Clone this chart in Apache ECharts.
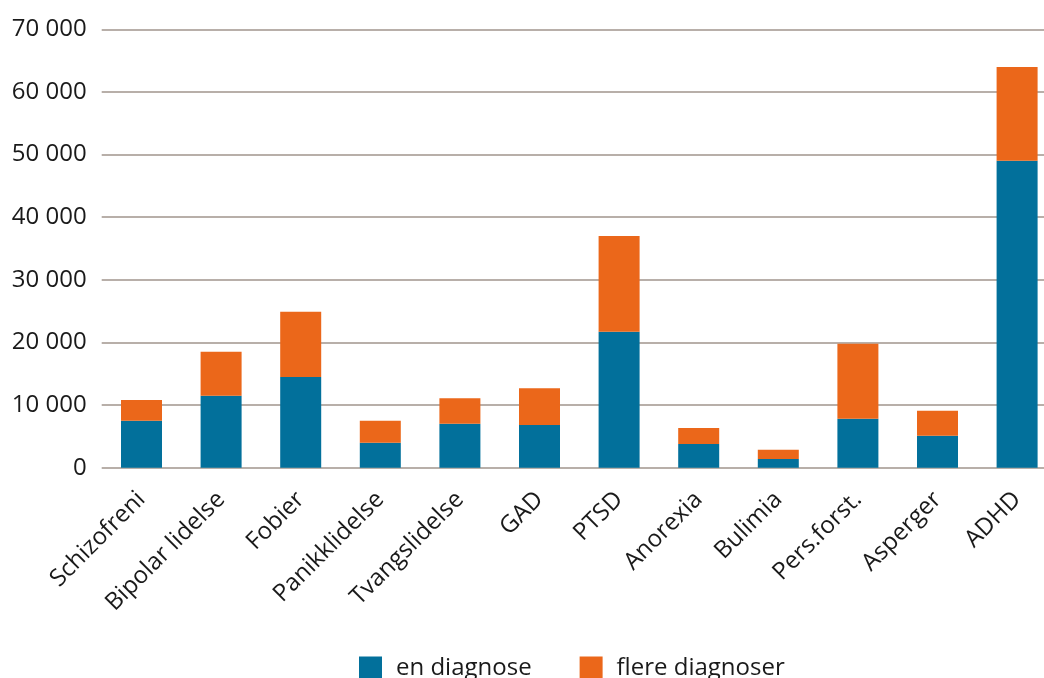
<!DOCTYPE html>
<html>
<head>
<meta charset="utf-8">
<script src="https://cdn.jsdelivr.net/npm/echarts@6/dist/echarts.min.js"></script>
<style>
html,body{margin:0;padding:0;background:#fff;}
#c{width:1044px;height:678px;}
</style>
</head>
<body>
<div id="c"></div>
<script>
const categories = ['Schizofreni','Bipolar lidelse','Fobier','Panikklidelse','Tvangslidelse','GAD','PTSD','Anorexia','Bulimia','Pers.forst.','Asperger','ADHD'];
const enDiagnose = [7500, 11500, 14500, 4000, 7000, 6800, 21700, 3800, 1400, 7800, 5100, 49000];
const flereDiagnoser = [3300, 7000, 10400, 3500, 4100, 5900, 15300, 2550, 1450, 12000, 4000, 15000];
const yTicks = [0, 10000, 20000, 30000, 40000, 50000, 60000, 70000];

const chart = echarts.init(document.getElementById('c'), null, {renderer:'canvas'});
const font = "'Open Sans', 'Noto Sans', sans-serif";
chart.setOption({
  animation: false,
  textStyle: {fontFamily: font},
  grid: {left: 101.7, top: 29.3, width: 955.2, height: 438.4, containLabel: false, outerBoundsMode: 'none'},
  legend: {
    top: 656, left: 359, padding: 0,
    itemWidth: 23, itemHeight: 23, itemGap: 48,
    icon: 'rect',
    textStyle: {fontSize: 24, color: '#1a1a1a', fontFamily: font, padding: [0,0,0,9]},
    data: ['en diagnose', 'flere diagnoser']
  },
  xAxis: {
    type: 'category',
    data: categories,
    axisLine: {show: false},
    axisTick: {show: false},
    axisLabel: {rotate: 45, fontSize: 24, color: '#1a1a1a', margin: 28, interval: 0, fontFamily: font}
  },
  yAxis: {
    type: 'value',
    min: yTicks[0], max: yTicks[yTicks.length-1], interval: 10000,
    axisLine: {show: false},
    axisTick: {show: false},
    splitLine: {lineStyle: {color: '#a0958d', width: 1.5}},
    axisLabel: {
      fontSize: 24, color: '#1a1a1a', margin: 15, fontFamily: font,
      formatter: v => String(v).replace(/\B(?=(\d{3})+(?!\d))/g, ' ')
    }
  },
  series: [
    {name: 'en diagnose', type: 'bar', stack: 'a', data: enDiagnose, barWidth: 41, itemStyle: {color: '#02709b'}},
    {name: 'flere diagnoser', type: 'bar', stack: 'a', data: flereDiagnoser, barWidth: 41, itemStyle: {color: '#eb671a'}}
  ]
});
</script>
</body>
</html>
